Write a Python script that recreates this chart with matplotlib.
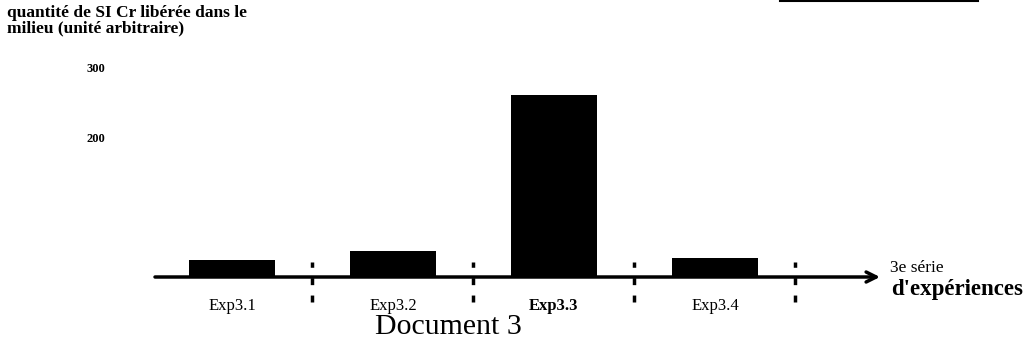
import matplotlib
matplotlib.use("Agg")
import matplotlib.pyplot as plt
from matplotlib.lines import Line2D

categories = ["Exp3.1", "Exp3.2", "Exp3.3", "Exp3.4"]
values = [24, 37, 260, 27]
ytick_values = [200, 300]
ytick_labels = ["200", "300"]
title_text = "quantité de SI Cr libérée dans le\nmilieu (unité arbitraire)"
axis_label_1 = "3e série"
axis_label_2 = "d'expériences"
doc_title = "Document 3"

W, H = 1027, 354
fig = plt.figure(figsize=(W / 100, H / 100), dpi=100)
serif = ["Liberation Serif", "DejaVu Serif"]

# axes: left at px 155, right at px 880, baseline px 277, top px 0
ax = fig.add_axes([155 / W, (H - 277) / H, (880 - 155) / W, 277 / H])
ax.set_facecolor("none")
xpos = list(range(len(categories)))
ax.bar(xpos, values, width=0.535, color="black")
ax.set_xlim(-0.478, 4.025)
ax.set_ylim(0, 277 / 0.70)

for s in ax.spines.values():
    s.set_visible(False)

# x axis arrow
ax.annotate("", xy=(4.025, 0), xytext=(-0.478, 0), xycoords="data",
            arrowprops=dict(arrowstyle="->", lw=2.5, color="black",
                            mutation_scale=18, shrinkA=0, shrinkB=0),
            annotation_clip=False)

# separators
seps = [i + 0.5 for i in xpos]
ax.vlines(seps, -36, 21, colors="black", linestyles=(0, (2, 3)), lw=2.5, clip_on=False)

ax.set_xticks(xpos)
ax.set_xticklabels(categories, fontfamily=serif, fontsize=12)
ax.get_xticklabels()[2].set_fontweight("bold")
ax.tick_params(axis="x", length=0, pad=15)

ax.set_yticks(ytick_values)
ax.set_yticklabels(ytick_labels, fontfamily=serif, fontsize=9, fontweight="bold")
ax.tick_params(axis="y", length=0, pad=36)

fig.text(890 / W, 1 - 268 / H, axis_label_1, fontfamily=serif, fontsize=12.5,
         va="center", ha="left")
fig.text(891 / W, 1 - 289 / H, axis_label_2, fontfamily=serif, fontsize=16.5,
         fontweight="bold", va="center", ha="left")
fig.text(448 / W, 1 - 327 / H, doc_title, fontfamily=serif, fontsize=21.5,
         va="center", ha="center")
fig.text(7 / W, 1 - 5 / H, title_text, fontfamily=serif, fontsize=12.5,
         fontweight="bold", va="top", ha="left", linespacing=0.95)

fig.add_artist(Line2D([780 / W, 978 / W], [1 - 1 / H, 1 - 1 / H], color="black", lw=1.5,
                      transform=fig.transFigure))

fig.savefig("out.png", dpi=100)
